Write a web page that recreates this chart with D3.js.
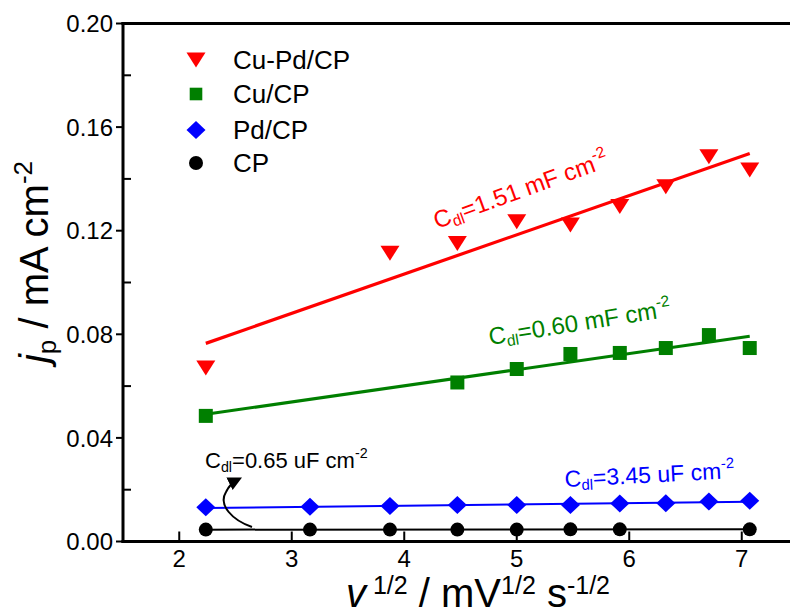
<!DOCTYPE html>
<html><head><meta charset="utf-8">
<script src="https://cdn.jsdelivr.net/npm/d3@7"></script>
<style>
html,body{margin:0;padding:0;background:#fff;}
svg{display:block;font-family:Arial,"Liberation Sans",sans-serif;}
</style></head>
<body>
<svg id="chart" width="790" height="614"></svg>
<script>
// ---- data ----
const seriesNames = ["Cu-Pd/CP", "Cu/CP", "Pd/CP", "CP"];
const cuPdX = [2.236, 3.873, 4.472, 5.0, 5.477, 5.916, 6.325, 6.708, 7.071];
const cuPdY = [0.0670, 0.1113, 0.1151, 0.1235, 0.1222, 0.1293, 0.1370, 0.1486, 0.1434];
const cuX = [2.236, 4.472, 5.0, 5.477, 5.916, 6.325, 6.708, 7.071];
const cuY = [0.0485, 0.0614, 0.0666, 0.0724, 0.0728, 0.0747, 0.0797, 0.0747];
const pdX = [2.236, 3.162, 3.873, 4.472, 5.0, 5.477, 5.916, 6.325, 6.708, 7.071];
const pdY = [0.0132, 0.0134, 0.0137, 0.0141, 0.0141, 0.0141, 0.0147, 0.0148, 0.0154, 0.0157];
const cpX = [2.236, 3.162, 3.873, 4.472, 5.0, 5.477, 5.916, 7.071];
const cpY = [0.0046, 0.0046, 0.0046, 0.0046, 0.0046, 0.0047, 0.0047, 0.0047];
const xTicks = [2, 3, 4, 5, 6, 7];
const yTicks = [0.00, 0.04, 0.08, 0.12, 0.16, 0.20];
const yMinorTicks = [0.02, 0.06, 0.10, 0.14, 0.18];
const cdlLabels = ["1.51 mF cm", "0.60 mF cm", "3.45 uF cm", "0.65 uF cm"];

// ---- layout ----
const svg = d3.select("#chart");
const x = d3.scaleLinear().domain([1.5, 7.5]).range([123, 798]);
const y = d3.scaleLinear().domain([0, 0.2]).range([541.5, 23.5]);
const colors = ["#ff0000", "#007f00", "#0000ff", "#000000"];

function fit(xs, ys) {
  const mx = d3.mean(xs), my = d3.mean(ys);
  let sxy = 0, sxx = 0;
  xs.forEach((v, i) => { sxy += (v - mx) * (ys[i] - my); sxx += (v - mx) * (v - mx); });
  const b = sxy / sxx, a = my - b * mx;
  const x0 = d3.min(xs), x1 = d3.max(xs);
  return [[x0, a + b * x0], [x1, a + b * x1]];
}

const series = [
  {xs: cuPdX, ys: cuPdY, shape: "tri", lw: 3.2},
  {xs: cuX, ys: cuY, shape: "sq", lw: 3},
  {xs: pdX, ys: pdY, shape: "dia", lw: 2},
  {xs: cpX, ys: cpY, shape: "cir", lw: 2}
];

function marker(g, shape, cx, cy, color, s) {
  if (shape === "tri") {
    const w = 9.5 * s, h = 15 * s;
    g.append("path").attr("d", `M${cx - w},${cy - h / 2}L${cx + w},${cy - h / 2}L${cx},${cy + h / 2}Z`).attr("fill", color);
  } else if (shape === "sq") {
    const w = 7 * s;
    g.append("rect").attr("x", cx - w).attr("y", cy - w).attr("width", 2 * w).attr("height", 2 * w).attr("fill", color);
  } else if (shape === "dia") {
    const w = 9.5 * s, h = 9 * s;
    g.append("path").attr("d", `M${cx},${cy - h}L${cx + w},${cy}L${cx},${cy + h}L${cx - w},${cy}Z`).attr("fill", color);
  } else {
    g.append("circle").attr("cx", cx).attr("cy", cy).attr("r", 7 * s).attr("fill", color);
  }
}

// fit lines (drawn under markers)
const lineGen = d3.line().x(d => x(d[0])).y(d => y(d[1]));
series.forEach((s, i) => {
  svg.append("path").attr("d", lineGen(fit(s.xs, s.ys))).attr("stroke", colors[i])
    .attr("stroke-width", s.lw).attr("fill", "none");
});
// markers
series.slice().reverse().forEach((s, ri) => {
  const i = series.length - 1 - ri;
  const g = svg.append("g");
  s.xs.forEach((v, j) => marker(g, s.shape, x(v), y(s.ys[j]), colors[i], 1));
});

// axes frame
const ax = svg.append("g").attr("stroke", "#000").attr("fill", "none");
ax.append("line").attr("x1", x(1.5)).attr("x2", x(1.5)).attr("y1", y(0.2) - 1.5).attr("y2", y(0) + 1.5).attr("stroke-width", 3);
ax.append("line").attr("x1", x(1.5) - 1.5).attr("x2", 790).attr("y1", y(0.2)).attr("y2", y(0.2)).attr("stroke-width", 3);
ax.append("line").attr("x1", x(1.5) - 1.5).attr("x2", 790).attr("y1", y(0)).attr("y2", y(0)).attr("stroke-width", 3);

// ticks
yTicks.forEach(t => {
  ax.append("line").attr("x1", x(1.5) - 7).attr("x2", x(1.5)).attr("y1", y(t)).attr("y2", y(t)).attr("stroke-width", 2);
});
yMinorTicks.forEach(t => {
  ax.append("line").attr("x1", x(1.5)).attr("x2", x(1.5) + 8).attr("y1", y(t)).attr("y2", y(t)).attr("stroke-width", 2);
});
xTicks.forEach(t => {
  ax.append("line").attr("x1", x(t)).attr("x2", x(t)).attr("y1", y(0)).attr("y2", y(0) - 10).attr("stroke-width", 2);
});

const lbl = svg.append("g").attr("fill", "#000").attr("font-size", 24);
yTicks.forEach(t => {
  lbl.append("text").attr("x", 113).attr("y", y(t)).attr("dy", "0.36em").attr("text-anchor", "end").text(d3.format(".2f")(t));
});
xTicks.forEach(t => {
  lbl.append("text").attr("x", x(t)).attr("y", 567).attr("text-anchor", "middle").text(t);
});

// axis titles
const yt = svg.append("text").attr("transform", "translate(48,262) rotate(-90)").attr("text-anchor", "middle").attr("font-size", 40);
yt.append("tspan").attr("font-style", "italic").text("j");
yt.append("tspan").attr("font-size", 26).attr("dy", 8).text("p");
yt.append("tspan").attr("dy", -8).text(" / mA cm");
yt.append("tspan").attr("font-size", 26).attr("dy", -16).text("-2");

const xt = svg.append("text").attr("x", 478).attr("y", 607).attr("text-anchor", "middle").attr("font-size", 40);
xt.append("tspan").attr("font-style", "italic").text("v");
xt.append("tspan").attr("font-size", 25).attr("dy", -13).text(" 1/2");
xt.append("tspan").attr("dy", 13).text(" / mV");
xt.append("tspan").attr("font-size", 25).attr("dy", -13).text("1/2");
xt.append("tspan").attr("dy", 13).text(" s");
xt.append("tspan").attr("font-size", 25).attr("dy", -13).text("-1/2");

// legend
const leg = svg.append("g");
const legY = [60, 94, 130, 163];
seriesNames.forEach((n, i) => {
  marker(leg, series[i].shape, 196, legY[i], colors[i], i === 1 ? 0.9 : 1);
  leg.append("text").attr("x", 233).attr("y", legY[i]).attr("dy", "0.36em").attr("font-size", 26).attr("fill", "#000").text(n);
});

// Cdl annotations
function cdl(px, py, rot, color, val, fs) {
  const t = svg.append("text").attr("transform", `translate(${px},${py}) rotate(${rot})`).attr("fill", color).attr("font-size", fs);
  t.append("tspan").text("C");
  t.append("tspan").attr("font-size", fs * 0.65).attr("dy", 4).text("dl");
  t.append("tspan").attr("dy", -4).text("=" + val);
  t.append("tspan").attr("font-size", fs * 0.65).attr("dy", -fs * 0.45).text("-2");
}
cdl(437, 229, -20, colors[0], cdlLabels[0], 24);
cdl(490, 345, -9, colors[1], cdlLabels[1], 24);
cdl(565, 487, -3, colors[2], cdlLabels[2], 23);
cdl(205, 468, 0, colors[3], cdlLabels[3], 22);

// arrow
const defs = svg.append("defs");
defs.append("marker").attr("id", "ah").attr("viewBox", "0 0 10 10").attr("refX", 6).attr("refY", 5)
  .attr("markerWidth", 7).attr("markerHeight", 7).attr("orient", "auto")
  .append("path").attr("d", "M0,0L10,5L0,10Z").attr("fill", "#000");
svg.append("path").attr("d", "M252,527 C232,520 218,505 226,492 C229,486 233,482 237,480")
  .attr("fill", "none").attr("stroke", "#000").attr("stroke-width", 2).attr("marker-end", "url(#ah)");
</script>
</body></html>
